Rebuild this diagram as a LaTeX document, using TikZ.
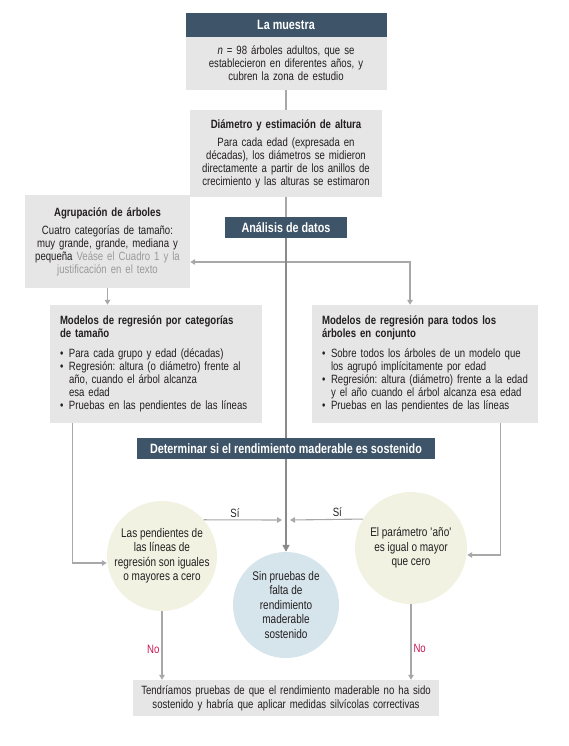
\documentclass[tikz,border=0pt]{standalone}
\usepackage{fontspec}
\setmainfont{Liberation Sans}[FakeStretch=0.8]
\usetikzlibrary{arrows.meta, positioning, calc}
\definecolor{cabecera}{HTML}{3E5468}
\definecolor{cajagris}{HTML}{E6E6E6}
\definecolor{circbeige}{HTML}{F2F2E3}
\definecolor{circazul}{HTML}{D6E4EC}
\definecolor{lineagris}{HTML}{A8A8A8}
\definecolor{ejegris}{HTML}{8A8A8A}
\definecolor{rojono}{HTML}{C8174F}
\definecolor{grisnota}{HTML}{9A9A9A}
\definecolor{texto}{HTML}{231F20}

\newcommand{\vineta}[1]{\par\hangindent=9pt\hangafter=1\noindent\makebox[9pt][l]{\textbullet}#1\par}

\begin{document}
\frenchspacing
\begin{tikzpicture}[
x=1pt, y=-1pt,
every node/.style={text=texto},
caja/.style={fill=cajagris, inner sep=0pt, align=center, font=\fontsize{12}{13}\selectfont},
cabeza/.style={fill=cabecera, text=white, inner sep=0pt, align=center, font=\fontsize{13.5}{15}\selectfont\bfseries},
listabox/.style={caja, align=left, inner xsep=10pt},
circulo/.style={circle, inner sep=0pt, align=center, font=\fontsize{12.5}{14.5}\selectfont},
linea/.style={lineagris, line width=1.1pt},
flecha/.style={linea, -{Triangle[length=5pt, width=5.5pt]}},
eje/.style={ejegris, line width=1.6pt},
etiqueta/.style={font=\fontsize{12}{13}\selectfont, inner sep=2pt}
]
\useasboundingbox (0,0) rectangle (569,746);

\node[cabeza, minimum width=201pt, minimum height=24pt] (cabmuestra) at (286,25) {La muestra};
\node[caja, text width=201pt, minimum height=53pt] (muestra) at (286,63.5) {\textit{n} = 98 árboles adultos, que se\\establecieron en diferentes años, y\\cubren la zona de estudio};

\node[caja, text width=192pt, minimum height=87pt] (diametro) at (286,153.5) {{\bfseries Diámetro y estimación de altura}\\[5pt]Para cada edad (expresada en\\décadas), los diámetros se midieron\\directamente a partir de los anillos de\\crecimiento y las alturas se estimaron};

\node[cabeza, minimum width=122pt, minimum height=21pt] (analisis) at (286,227.5) {Análisis de datos};

\node[caja, text width=165pt, minimum height=93pt] (agrup) at (107.5,241.5) {{\bfseries Agrupación de árboles}\\[5pt]Cuatro categorías de tamaño:\\muy grande, grande, mediana y\\pequeña {\color{grisnota}Veáse el Cuadro 1 y la\\justificación en el texto}};

\node[listabox, text width=192pt, minimum height=118pt] (modizq) at (156,364) {{\bfseries Modelos de regresión por categorías\newline de tamaño}\par\vspace{7pt}%
\vineta{Para cada grupo y edad (décadas)}%
\vineta{Regresión: altura (o diámetro) frente al\newline año, cuando el árbol alcanza\newline esa edad}%
\vineta{Pruebas en las pendientes de las líneas}};

\node[listabox, text width=206pt, minimum height=118pt] (modder) at (425,364) {{\bfseries Modelos de regresión para todos los\newline árboles en conjunto}\par\vspace{7pt}%
\vineta{Sobre todos los árboles de un modelo que\newline los agrupó implícitamente por edad}%
\vineta{Regresión: altura (diámetro) frente a la edad\newline y el año cuando el árbol alcanza esa edad}%
\vineta{Pruebas en las pendientes de las líneas}};

\node[cabeza, minimum width=298pt, minimum height=21pt] (determinar) at (286,448.5) {Determinar si el rendimiento maderable es sostenido};

\node[circulo, fill=circbeige, minimum size=110pt] (circizq) at (162,556) {Las pendientes de\\las líneas de\\regresión son iguales\\o mayores a cero};
\node[circulo, fill=circbeige, minimum size=112pt] (circder) at (411,548) {El parámetro \textquotesingle año\textquotesingle\\es igual o mayor\\que cero};
\node[circulo, fill=circazul, minimum size=106pt] (circcentro) at (286,605) {Sin pruebas de\\falta de\\rendimiento\\maderable\\sostenido};

\node[caja, text width=306pt, minimum height=36pt, font=\fontsize{12}{14}\selectfont] (final) at (286,698) {Tendríamos pruebas de que el rendimiento maderable no ha sido\\sostenido y habría que aplicar medidas silvícolas correctivas};

\coordinate (rama) at (286,262);
\coordinate (si) at (286,520);

\draw[linea] (muestra) -- (diametro);
\draw[linea] (diametro) -- (analisis);
\draw[flecha] (rama) -- (rama -| agrup.east);
\draw[flecha] (rama) -| ([xshift=-15pt]modder.north);
\draw[flecha] (agrup.south) -- (agrup.south |- modizq.north);
\draw[eje] (analisis) -- (determinar);
\draw[eje, -{Triangle[length=7pt, width=7pt]}] (determinar) -- (circcentro);

\draw[flecha] ([xshift=23pt]modizq.south west) |- ([yshift=-7pt]circizq.west);
\draw[flecha] ([xshift=-38pt]modder.south east) |- ([yshift=-7pt]circder.east);

\draw[flecha] (circizq.41) -- node[etiqueta, above, pos=0.4] {Sí} ([xshift=-4pt]si);
\draw[flecha] (circder.149) -- node[etiqueta, above, pos=0.35] {Sí} ([xshift=4pt]si);

\draw[flecha] (circizq) -- node[etiqueta, left, pos=0.55, text=rojono] {No} (circizq |- final.north);
\draw[flecha] (circder) -- node[etiqueta, right, pos=0.58, text=rojono] {No} (circder |- final.north);
\end{tikzpicture}
\end{document}
